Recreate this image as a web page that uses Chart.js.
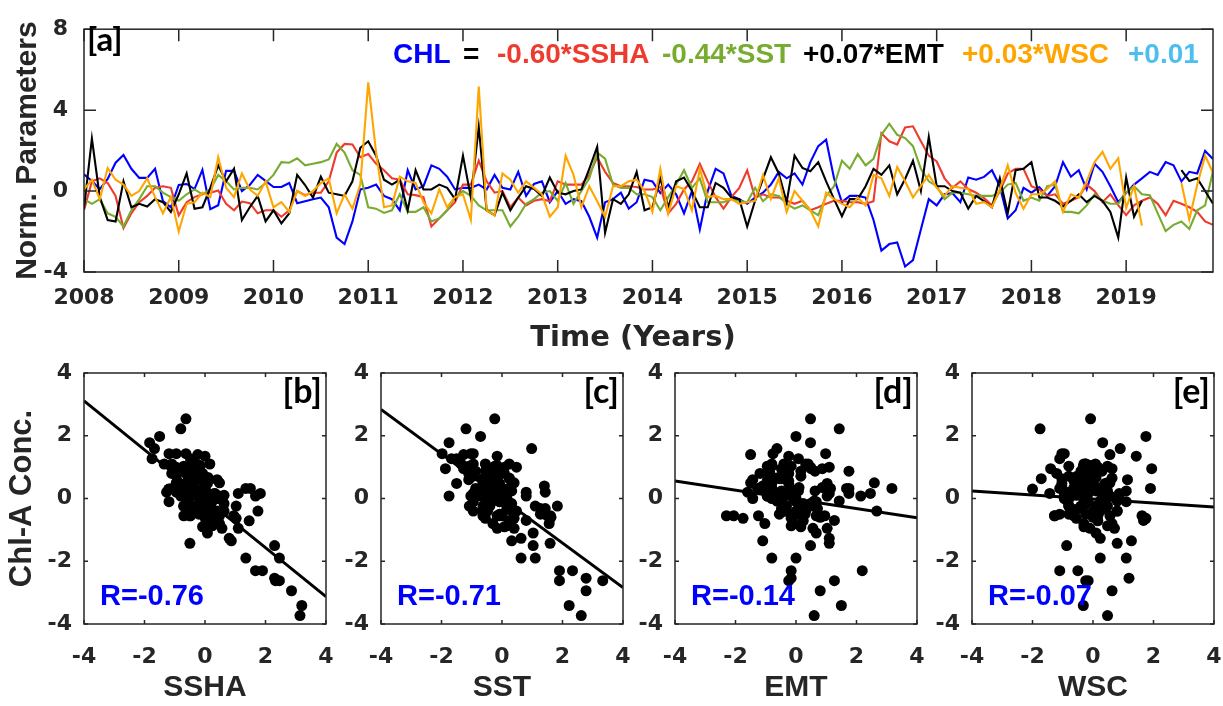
<!DOCTYPE html>
<html><head><meta charset="utf-8">
<script src="https://cdn.jsdelivr.net/npm/chart.js@4/dist/chart.umd.min.js"></script>
<style>
html,body{margin:0;padding:0;background:#fff;width:1223px;height:706px;overflow:hidden;position:relative;}
.w{position:absolute;}
</style></head><body>
<div class="w" style="left:0;top:0;width:1223px;height:360px"><canvas id="cTop"></canvas></div>
<div class="w" style="left:0;top:340px;width:356px;height:366px"><canvas id="cB"></canvas></div>
<div class="w" style="left:297px;top:340px;width:356px;height:366px"><canvas id="cC"></canvas></div>
<div class="w" style="left:591px;top:340px;width:356px;height:366px"><canvas id="cD"></canvas></div>
<div class="w" style="left:888px;top:340px;width:356px;height:366px"><canvas id="cE"></canvas></div>
<script>
// ---- DATA (monthly, Jan 2008 - Dec 2019) ----
const startYear = 2008;
const chl = [0.83,0.5,0.1,0.6,1.4,1.78,1.1,0.65,0.65,1.1,-0.5,-0.8,
0.3,0.35,0.1,1.05,-0.9,-0.7,1.0,1.0,0.0,0.3,0.8,0.5,
0.2,0.2,0.4,-0.6,-0.5,-0.4,-0.32,-0.8,-2.3,-2.62,-1.5,0.08,
0.16,0.32,-0.24,-0.4,-0.95,1.03,0.08,0.24,1.27,1.1,0.71,0.08,
0.16,0.16,0.32,0.08,0.8,0.16,0.08,0.95,-0.24,0.35,0.48,-0.55,
0,-0.63,-0.4,-0.5,-1.27,-2.3,-0.55,-0.4,-0.08,-0.87,-0.55,0.56,
0.48,-0.1,0.32,-0.16,-1.1,0.0,-1.9,0.0,1.1,0.87,-0.24,-0.4,
-0.63,-0.32,-0.08,0.32,0.95,0.63,0.87,0.32,1.43,2.22,2.54,0.63,
-0.55,-0.24,-0.24,-0.32,-1.43,-2.94,-2.62,-2.54,-3.73,-3.41,-1.9,-0.4,
-0.71,-0.16,-0.1,-0.55,0.67,0.56,0.7,1.03,0.24,-1.35,-0.95,0.16,
-0.08,0.19,-0.24,0.24,1.43,0.71,1.03,0.08,1.35,0.95,0.24,-0.55,
-0.1,0.32,0.63,0.95,0.8,1.43,1.27,0.48,0.95,0.87,1.98,1.59];
const ssha = [-0.95,0.48,0.63,0.4,-0.24,-1.83,-1.1,-0.55,-0.24,0.16,0.24,0.16,
-1.2,-0.55,-0.3,-0.16,-0.08,0.03,-0.63,-0.95,-0.52,-0.6,-1.1,-0.95,
-0.95,-1.27,-0.95,0,-0.2,-0.08,-0.08,0.48,1.9,2.33,2.3,1.67,
1.83,1.35,1.03,0.63,0.56,-0.16,-0.2,-0.3,-1.75,-1.35,-0.95,-0.55,
0.32,0.32,1.5,0.48,-0.08,0,-0.8,-0.32,-0.71,-0.48,-0.4,-0.5,
0.48,0.32,0.32,0.32,0.8,1.67,0.95,0.4,0.24,0.24,0.2,0.08,
0.08,0.2,-1.1,-0.63,0.08,0.48,1.35,0.48,-0.3,-0.87,-0.3,0.16,
1.03,-0.32,-0.16,-0.32,-0.32,-0.48,-0.63,-0.48,-0.95,-0.8,-0.63,-0.48,
-0.48,-0.55,-0.55,-0.63,-0.5,2.86,2.46,2.3,3.14,3.2,2.46,1.75,
1.46,0.63,0.16,0.48,0.1,-0.08,-0.35,-0.7,0.0,0.87,1.1,1.1,
0.24,0.08,-0.24,-0.16,-0.63,-0.48,-0.3,0.32,0,-0.55,-0.16,-0.7,
-1.19,-0.71,-0.48,-0.32,-0.63,-1.19,-0.48,-0.63,-0.8,-1.03,-1.5,-1.67];
const sst = [-0.4,-0.63,-0.4,-1.1,-1.27,-1.75,-0.95,-0.4,0.24,0.24,-0.08,-0.3,
-0.48,-0.16,0.08,-0.16,0.08,0.8,0.48,0.08,0.16,0.16,0.08,0.4,
0.8,1.43,1.4,1.62,1.27,1.35,1.43,1.56,2.33,1.9,1.03,0.8,
-0.8,-0.87,-1.08,-0.95,-0.16,-1.03,-1.03,-0.8,-1.5,-1.35,-0.95,-0.3,
0,-0.24,-0.71,-0.95,-0.95,-0.95,-1.75,-1.27,-0.63,-0.4,-0.08,0,
-0.48,0.4,-0.63,0,0.63,1.9,1.6,0.32,0.16,0.16,-0.16,-0.16,
-0.3,-0.95,-0.3,0.32,1.03,0.16,0.63,-0.55,-0.55,-0.55,-0.4,-0.48,
-0.55,0.16,-0.5,-0.16,-0.24,-0.63,-0.87,-0.71,-0.95,-1.19,-0.24,0.24,
1.5,1.1,1.83,1.27,1.59,2.78,3.33,2.78,2.62,2.22,1.1,0.48,
0.24,-0.4,-0.08,-0.08,-0.16,-0.24,-0.24,-0.24,-0.08,0.32,0.4,-0.48,
-0.32,-0.48,0.24,0.32,-1.03,-1.03,-1.1,-0.71,-0.16,-0.48,-0.63,-0.63,
-0.08,0.24,-0.16,-0.2,-1.1,-1.98,-1.67,-1.5,-1.87,-0.95,-0.71,0.98];
const emt = [-0.87,2.59,-0.3,-1.43,-1.5,0.48,-0.8,-0.63,-0.76,-0.4,-0.55,-1.03,
-0.16,0.87,-0.87,-0.8,0.16,1.27,0.48,1.1,-1.43,-0.8,-0.24,-1.5,
-0.95,-1.6,-1.1,0.8,0.3,-0.32,0.71,-0.08,-0.16,-0.24,0.48,2.14,
2.46,1.75,0.56,0.32,0.56,-0.95,1.03,0.08,0.08,0.32,0.16,-0.4,
1.75,-0.32,3.17,-0.95,-1.19,-0.08,-0.95,-0.32,0.24,0.1,-0.24,0.67,
-0.08,-0.16,0,0.08,1.1,2.19,-2.06,-0.4,-0.63,-0.16,0.95,-0.95,
-0.8,0.63,-0.8,0.48,0.67,0,-0.8,-0.8,0.4,0.16,-0.32,-0.4,
-1.75,-0.48,0.6,1.67,0.87,-0.55,1.75,1.14,0.98,1.43,0.48,-0.4,
-1.24,-0.4,-0.4,0.24,1.1,0.8,1.27,-0.16,0.6,1.5,0,2.67,
0.24,0.24,0,-0.08,-0.87,-0.24,-0.5,-0.8,0.63,-1.1,1.03,1.1,
1.43,-0.32,-0.32,-0.48,-0.76,-0.48,-0.16,-0.55,-0.24,-0.48,-1.03,-2.3,
0.67,-1.27,-0.48,null,null,null,null,1.03,0.5,0.63,0,-0.63];
const wsc = [0.08,0.56,-0.4,1.14,0.56,0.32,-0.24,0,0.63,-0.3,-1.1,-0.3,
-2.0,-0.63,-0.55,-0.08,-0.3,1.67,0.16,-0.3,0.87,0.08,-0.24,0.48,
-0.8,-0.55,-1.03,0,-0.24,0,0.4,0.63,-1.1,-0.16,-0.87,0.32,
5.37,1.9,-0.8,-0.71,0.71,0.48,0.4,-0.55,-1.1,0.08,-0.8,-0.3,
-0.16,-1.43,5.16,-0.95,-1.2,0.87,0.56,-0.08,0.48,0.16,-0.16,-1.27,
-0.8,1.75,0.8,-0.8,0.24,-0.5,-1.27,0.24,0.24,0.48,0.56,0,
-1.03,1.1,-1.1,0.24,0.1,-0.95,1.1,-0.3,-0.24,-0.4,-0.4,-0.63,
-0.55,-0.48,0.8,-0.4,0.63,-1.03,0,-0.48,-0.95,-1.75,-0.08,-0.4,
-0.63,-0.8,-0.32,-0.71,0.8,0.63,-0.24,1.19,0.48,-0.32,0.24,0.8,
0.16,-0.24,0.24,0.16,0.1,-0.63,-0.55,-0.8,0.1,1.27,-0.1,-0.87,
-0.16,-0.16,0.1,0.48,-1.03,-0.16,-0.32,0.48,1.43,1.94,1.1,1.62,
-0.83,0.24,-1.71,null,null,null,null,0.4,-1.4,0.3,1.75,0.9];

const yearTicks = [2008,2009,2010,2011,2012,2013,2014,2015,2016,2017,2018,2019];
const topYTicks = [-4,0,4,8];
const panelTicks = [-4,-2,0,2,4];
const eqParts = ['CHL','=','-0.60*SSHA','-0.44*SST','+0.07*EMT','+0.03*WSC','+0.01'];
const topXTitle = 'Time (Years)';
const panelNames = ['SSHA','SST','EMT','WSC'];
const panelTags = ['[b]','[c]','[d]','[e]'];
const rLabels = ['R=-0.76','R=-0.71','R=-0.14','R=-0.07'];
const fitSlope = [-0.78,-0.71,-0.147,-0.064];
const fitIntercept = [-0.01,0.0,-0.03,-0.015];

// ---- STYLE ----
const COL = {blue:'#0000FF', red:'#EE3B2E', green:'#77AC30', black:'#000000', orange:'#FFA500', cyan:'#4DBEEE', axis:'#262626'};
const FAM = '"Liberation Sans", Arial, sans-serif';
const TICKFAM = '"DejaVu Sans", sans-serif';
const TAGFAM = 'Lato, "Open Sans", sans-serif';

const framePlugin = {
  id: 'frame',
  afterDatasetsDraw(chart, args, o) {
    const {ctx, chartArea: a} = chart;
    const sx = chart.scales.x, sy = chart.scales.y;
    ctx.save();
    ctx.strokeStyle = COL.axis; ctx.lineWidth = o.lw;
    ctx.beginPath();
    sx.ticks.forEach(t => { const p = sx.getPixelForValue(t.value);
      ctx.moveTo(p, a.bottom); ctx.lineTo(p, a.bottom - o.tick);
      ctx.moveTo(p, a.top); ctx.lineTo(p, a.top + o.tick); });
    sy.ticks.forEach(t => { const p = sy.getPixelForValue(t.value);
      ctx.moveTo(a.left, p); ctx.lineTo(a.left + o.tick, p);
      ctx.moveTo(a.right, p); ctx.lineTo(a.right - o.tick, p); });
    ctx.stroke();
    ctx.strokeRect(a.left, a.top, a.right - a.left, a.bottom - a.top);
    (o.texts || []).forEach(t => {
      ctx.font = t.font; ctx.fillStyle = t.color;
      ctx.textAlign = t.align || 'left'; ctx.textBaseline = t.base || 'alphabetic';
      const [x, y] = t.pos(a);
      ctx.fillText(t.text, x, y);
    });
    ctx.restore();
  }
};
Chart.register(framePlugin);

const tickFont = {family: TICKFAM, size: 22, weight: 'bold'};
const titleFont = {family: FAM, size: 30, weight: 'bold'};

// ---- TOP PANEL ----
const toXY = arr => arr.map((v, i) => ({x: startYear + i / 12, y: v}));
const eqColors = [COL.blue, COL.black, COL.red, COL.green, COL.black, COL.orange, COL.cyan];
const eqX = [393, 463, 497, 662, 803, 962, 1128];
const eqFont = 'bold 28px ' + FAM;
const topTexts = eqParts.map((s, i) => ({text: s, font: eqFont, color: eqColors[i], pos: () => [eqX[i], 63]}));
topTexts.push({text: '[a]', font: 'bold 33px ' + TAGFAM, color: '#000', base: 'top', pos: a => [a.left + 3, a.top - 5]});
topTexts.push({text: topXTitle, font: 'bold 29px ' + TICKFAM, color: COL.axis, align: 'center', base: 'middle', pos: a => [633, a.bottom + 66]});

const lineDs = (arr, c) => ({data: toXY(arr), borderColor: c, borderWidth: 2.1, pointRadius: 0, tension: 0, spanGaps: false, fill: false});
new Chart(document.getElementById('cTop'), {
  type: 'line',
  data: {datasets: [lineDs(wsc, COL.orange), lineDs(emt, COL.black), lineDs(sst, COL.green), lineDs(ssha, COL.red), lineDs(chl, COL.blue)]},
  options: {
    responsive: true, maintainAspectRatio: false, animation: false,
    layout: {padding: {top: 20, right: 10, left: 0, bottom: 0}},
    plugins: {legend: {display: false}, tooltip: {enabled: false}, frame: {lw: 1.5, tick: 12, texts: topTexts}},
    scales: {
      x: {type: 'linear', min: startYear, max: startYear + (chl.length - 1) / 12,
        afterBuildTicks: s => { s.ticks = yearTicks.map(v => ({value: v})); },
        afterFit: s => { s.height = 88; },
        grid: {display: false, drawTicks: false}, border: {display: false},
        ticks: {font: tickFont, color: COL.axis, padding: 13, maxRotation: 0, autoSkip: false, callback: v => String(v)},
        title: {display: false}},
      y: {min: -4, max: 8,
        afterBuildTicks: s => { s.ticks = topYTicks.map(v => ({value: v})); },
        afterFit: s => { s.width = 84; },
        grid: {display: false, drawTicks: false}, border: {display: false},
        ticks: {font: tickFont, color: COL.axis, padding: 16, callback: v => String(v)},
        title: {display: true, text: 'Norm. Parameters', font: titleFont, color: COL.axis, padding: {top: 10, bottom: 0}}}
    }
  }
});

// ---- SCATTER PANELS ----
const drivers = [ssha, sst, emt, wsc];
['cB', 'cC', 'cD', 'cE'].forEach((id, k) => {
  const xs = drivers[k];
  const pts = [];
  xs.forEach((v, i) => { if (v !== null && chl[i] !== null) pts.push({x: v, y: chl[i]}); });
  const fit = [-4, 4].map(x => ({x: x, y: fitSlope[k] * x + fitIntercept[k]}));
  new Chart(document.getElementById(id), {
    type: 'scatter',
    data: {datasets: [
      {type: 'line', data: fit, borderColor: '#000', borderWidth: 3, pointRadius: 0, fill: false},
      {data: pts, backgroundColor: '#000', borderWidth: 0, pointRadius: 5.5}
    ]},
    options: {
      responsive: true, maintainAspectRatio: false, animation: false,
      layout: {padding: {top: 33, right: 30, left: 0, bottom: 0}},
      plugins: {legend: {display: false}, tooltip: {enabled: false},
        frame: {lw: 1.5, tick: 4, texts: [
          {text: rLabels[k], font: 'bold 29px ' + FAM, color: COL.blue, pos: a => [a.left + 16, a.bottom - 19]},
          {text: panelTags[k], font: 'bold 34px ' + TAGFAM, color: '#000', align: 'right', base: 'top', pos: a => [a.right - 4, a.top + 2]}
        ]}},
      scales: {
        x: {type: 'linear', min: -4, max: 4,
          afterBuildTicks: s => { s.ticks = panelTicks.map(v => ({value: v})); },
          afterFit: s => { s.height = 82; },
          grid: {display: false, drawTicks: false}, border: {display: false},
          ticks: {font: tickFont, color: COL.axis, padding: 20, maxRotation: 0, autoSkip: false, callback: v => String(v)},
          title: {display: true, text: panelNames[k], font: titleFont, color: COL.axis, padding: {top: 0, bottom: 0}}},
        y: {min: -4, max: 4,
          afterBuildTicks: s => { s.ticks = panelTicks.map(v => ({value: v})); },
          afterFit: s => { s.width = 84; },
          grid: {display: false, drawTicks: false}, border: {display: false},
          ticks: {font: tickFont, color: COL.axis, padding: 12, callback: v => String(v)},
          title: {display: k === 0, text: 'Chl-A Conc.', font: {family: FAM, size: 31, weight: 'bold'}, color: COL.axis, padding: {top: 4, bottom: 0}}}
      }
    }
  });
});
</script>
</body></html>
